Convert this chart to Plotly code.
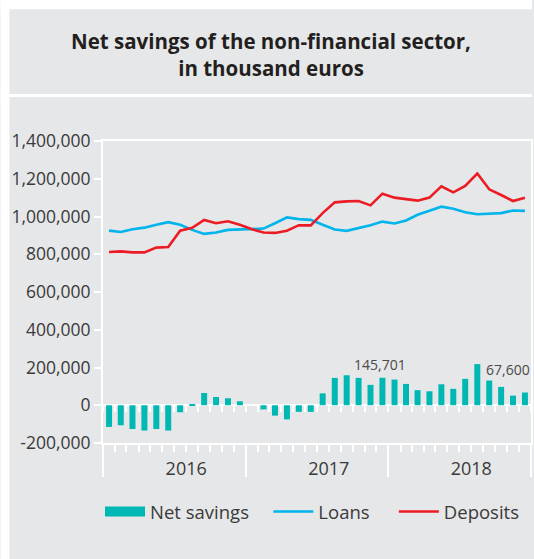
import pandas as pd
import plotly.graph_objects as go

# ---- data (thousand euros) ----
months = [f"{y}-{m:02d}" for y in (2016, 2017, 2018) for m in range(1, 13)]

net_savings = [
    -115000, -106000, -126000, -134000, -126000, -134000,
    -37000, 5000, 65000, 44000, 37000, 21000,
    0, -22000, -55000, -75000, -35000, -35000,
    63000, 145000, 159000, 145000, 108000, 145701,
    136000, 113000, 80000, 74000, 111000, 87000,
    140000, 218000, 131000, 97000, 51000, 67600,
]
loans = [
    925000, 918000, 932000, 941000, 956000, 970000,
    956000, 929000, 908000, 915000, 929000, 931000,
    932000, 936000, 964000, 995000, 986000, 982000,
    956000, 931000, 924000, 938000, 954000, 973000,
    963000, 979000, 1009000, 1030000, 1052000, 1041000,
    1023000, 1012000, 1014000, 1018000, 1032000, 1030000,
]
deposits = [
    812000, 815000, 810000, 810000, 835000, 838000,
    925000, 940000, 982000, 964000, 975000, 956000,
    932000, 915000, 913000, 925000, 954000, 953000,
    1018000, 1075000, 1080000, 1082000, 1059000, 1121000,
    1100000, 1091000, 1084000, 1100000, 1160000, 1128000,
    1162000, 1228000, 1144000, 1114000, 1082000, 1100000,
]
value_labels = {"2017-12": "145,701", "2018-12": "67,600"}

year_labels = ["2016", "2017", "2018"]
year_label_dates = ["2016-08-01", "2017-08-01", "2018-08-01"]
y_ticks = [-200000, 0, 200000, 400000, 600000, 800000, 1000000, 1200000, 1400000]
y_tick_text = ["-200,000", "0", "200,000", "400,000", "600,000",
               "800,000", "1,000,000", "1,200,000", "1,400,000"]

# ---- style ----
W, H = 534, 559
M_L, M_R, M_T, M_B = 103, 1, 141, 116
GRAY = "#e6e7e8"
TEAL = "#00b8b3"
BLUE = "#00b4ec"
RED = "#ec1c24"
TEXT = "#3a3a3a"
FONT = "Open Sans"
X_RANGE = ["2016-01-01", "2019-01-01"]
Y_RANGE = [-200000, 1400000]
NBSP = "\u00a0"

plot_w = W - M_L - M_R
plot_h = H - M_T - M_B


def px_x(px):
    return (px - M_L) / plot_w


def px_y(py):
    return (H - M_B - py) / plot_h


def month_mid(m):
    p = pd.Period(m, freq="M")
    return p.start_time + (p.end_time - p.start_time) / 2


fig = go.Figure()

fig.add_trace(go.Bar(
    x=months, y=net_savings, xperiod="M1", xperiodalignment="middle",
    marker=dict(color=TEAL, line=dict(width=0)), name="Net savings",
    showlegend=False, hoverinfo="skip",
))
# legend swatch for the bars (wide rectangle)
fig.add_trace(go.Scatter(
    x=[None], y=[None], mode="lines", name="Net savings" + NBSP * 3,
    line=dict(color=TEAL, width=12),
))
fig.add_trace(go.Scatter(
    x=months, y=loans, xperiod="M1", xperiodalignment="middle",
    mode="lines", name="Loans" + NBSP * 4, line=dict(color=BLUE, width=2.6),
    xaxis="x2",
))
fig.add_trace(go.Scatter(
    x=months, y=deposits, xperiod="M1", xperiodalignment="middle",
    mode="lines", name="Deposits", line=dict(color=RED, width=2.6),
    xaxis="x3",
))

# value labels over selected bars
for i, m in enumerate(months):
    if m in value_labels:
        last = i == len(months) - 1
        fig.add_annotation(
            x=month_mid(m), y=net_savings[i], xref="x", yref="y",
            text=value_labels[m], showarrow=False,
            xanchor="right" if last else "center", yanchor="bottom",
            xshift=7 if last else -2, yshift=11 if last else 2,
            font=dict(family=FONT, size=14, color="#4a4a4a"),
        )

white_shapes = [
    (0, 0, 9, H),          # left margin strip
    (0, 0, W, 9.3),        # top margin strip
    (0, 94, W, 97),        # separator under the title box
]
for x0, y0, x1, y1 in white_shapes:
    fig.add_shape(type="rect", xref="paper", yref="paper",
                  x0=px_x(x0), x1=px_x(x1), y0=px_y(y1), y1=px_y(y0),
                  fillcolor="white", line=dict(width=0), layer="below")

fig.update_layout(
    width=W, height=H, autosize=False,
    margin=dict(l=M_L, r=M_R, t=M_T, b=M_B, pad=0),
    paper_bgcolor=GRAY, plot_bgcolor=GRAY,
    font=dict(family=FONT, color=TEXT),
    bargap=0.48,
    title=dict(
        text="Net savings of the non-financial sector,<br>in thousand euros",
        x=271 / W, xref="container", xanchor="center",
        y=1 - 49 / H, yref="container", yanchor="middle",
        font=dict(family=FONT, size=20.5, color="#231f20", weight=700),
    ),
    xaxis=dict(
        type="date", range=X_RANGE, showgrid=False, zeroline=False,
        showline=True, linecolor="white", linewidth=2, mirror=True,
        tickmode="linear", tick0="2016-01-01", dtick="M12",
        ticks="outside", ticklen=32, tickwidth=2, tickcolor="white",
        showticklabels=False,
        minor=dict(ticks="outside", ticklen=7, tickwidth=2, tickcolor="white",
                   tick0="2016-01-01", dtick="M1", showgrid=False),
    ),
    xaxis2=dict(
        type="date", range=X_RANGE, overlaying="x", anchor="free",
        position=(0 - Y_RANGE[0]) / (Y_RANGE[1] - Y_RANGE[0]),
        showgrid=False, zeroline=False, showline=False,
        tickmode="linear", tick0="2016-01-01", dtick="M1",
        ticks="outside", ticklen=6, tickwidth=2, tickcolor="white",
        showticklabels=False,
    ),
    xaxis3=dict(
        type="date", range=X_RANGE, overlaying="x", anchor="y", side="bottom",
        showgrid=False, zeroline=False, showline=False,
        tickmode="array", tickvals=year_label_dates, ticktext=year_labels,
        ticks="", ticklabelstandoff=13,
        tickfont=dict(family=FONT, size=18, color=TEXT),
    ),
    yaxis=dict(
        range=Y_RANGE, showgrid=False,
        showline=True, linecolor="white", linewidth=2, mirror=True,
        zeroline=True, zerolinecolor="white", zerolinewidth=2,
        tickmode="array", tickvals=y_ticks, ticktext=y_tick_text,
        ticks="outside", ticklen=7, tickwidth=2, tickcolor="white",
        ticklabelstandoff=0,
        tickfont=dict(family=FONT, size=17.5, color=TEXT),
    ),
    legend=dict(
        orientation="h", x=px_x(100), xanchor="left",
        y=px_y(512), yanchor="middle", itemwidth=40,
        bgcolor="rgba(0,0,0,0)", font=dict(family=FONT, size=18.5, color=TEXT),
        itemclick=False, itemdoubleclick=False,
    ),
    showlegend=True,
)

fig.write_html("out.html")
